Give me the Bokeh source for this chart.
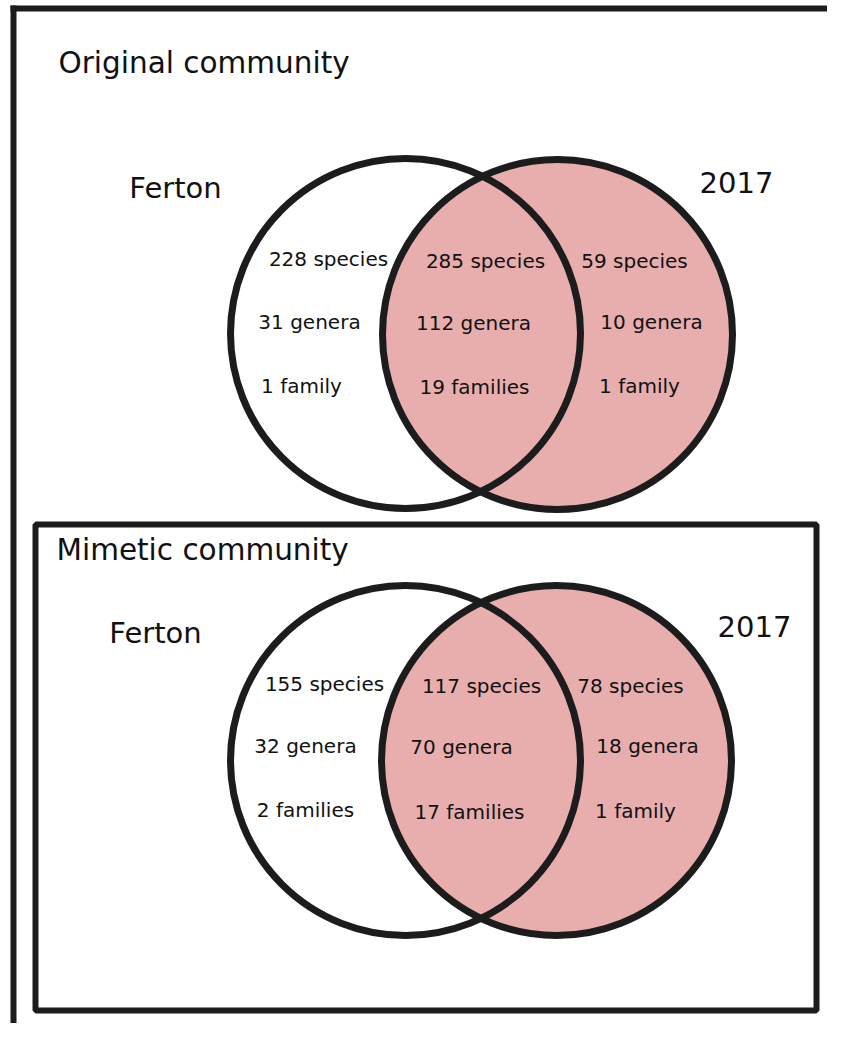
from bokeh.plotting import figure
from bokeh.models import Range1d
from bokeh.embed import file_html
from bokeh.resources import INLINE
from bokeh.core.properties import value

# ---- data ----
panel_titles = ["Original community", "Mimetic community"]
set_names = ["Ferton", "2017"]
original_ferton_only = ["228 species", "31 genera", "1 family"]
original_shared = ["285 species", "112 genera", "19 families"]
original_2017_only = ["59 species", "10 genera", "1 family"]
mimetic_ferton_only = ["155 species", "32 genera", "2 families"]
mimetic_shared = ["117 species", "70 genera", "17 families"]
mimetic_2017_only = ["78 species", "18 genera", "1 family"]

# ---- layout (pixel-like coordinates, y downwards) ----
W, H = 827, 1023
PINK = "#e8aeae"
INK = "#1c1c1c"
FONT = value("DejaVu Sans")

p = figure(width=W, height=H, x_range=Range1d(0, W), y_range=Range1d(H, 0),
           output_backend="svg", toolbar_location=None, min_border=0)
p.axis.visible = False
p.grid.visible = False
p.outline_line_color = None
p.background_fill_color = "white"

# outer frame (top and left edges)
p.segment(x0=[10, 13], y0=[8, 5], x1=[845, 13], y1=[8, 1040], line_color=INK, line_width=6)
# inner frame
p.quad(left=[35], right=[816], top=[524], bottom=[1010], fill_color=None,
       line_color=INK, line_width=6)

panels = [
    dict(title=panel_titles[0], tx=58, ty=62,
         left=(405, 333), right=(557, 334), r=175,
         names=[(175, 187), (736, 182)],
         cols=[(original_ferton_only, [328, 309, 301]),
               (original_shared, [485, 473, 474]),
               (original_2017_only, [634, 651, 639])],
         rows=[[258, 321, 385], [260, 322, 386], [260, 321, 385]]),
    dict(title=panel_titles[1], tx=56, ty=549,
         left=(405, 760), right=(556, 760), r=175,
         names=[(155, 632), (754, 626)],
         cols=[(mimetic_ferton_only, [324, 305, 305]),
               (mimetic_shared, [481, 461, 469]),
               (mimetic_2017_only, [630, 647, 635])],
         rows=[[683, 745, 809], [685, 746, 811], [685, 745, 810]]),
]

for pn in panels:
    (lx, ly), (rx, ry), r = pn["left"], pn["right"], pn["r"]
    p.ellipse(x=[rx], y=[ry], width=2 * r, height=2 * r, fill_color=PINK, line_color=None)
    p.ellipse(x=[lx], y=[ly], width=2 * r, height=2 * r, fill_color=None,
              line_color=INK, line_width=7)
    p.ellipse(x=[rx], y=[ry], width=2 * r, height=2 * r, fill_color=None,
              line_color=INK, line_width=7)
    p.text(x=[pn["tx"]], y=[pn["ty"]], text=[pn["title"]], text_font=FONT,
           text_font_size="29.5px", text_align="left", text_baseline="middle",
           text_color="#111111")
    p.text(x=[c[0] for c in pn["names"]], y=[c[1] for c in pn["names"]], text=set_names,
           text_font=FONT, text_font_size="29px", text_align="center",
           text_baseline="middle", text_color="#111111")
    for (labels, xs), ys in zip(pn["cols"], pn["rows"]):
        p.text(x=xs, y=ys, text=labels, text_font=FONT, text_font_size="20px",
               text_align="center", text_baseline="middle", text_color="#111111")

open("out.html", "w").write(file_html(p, INLINE))
